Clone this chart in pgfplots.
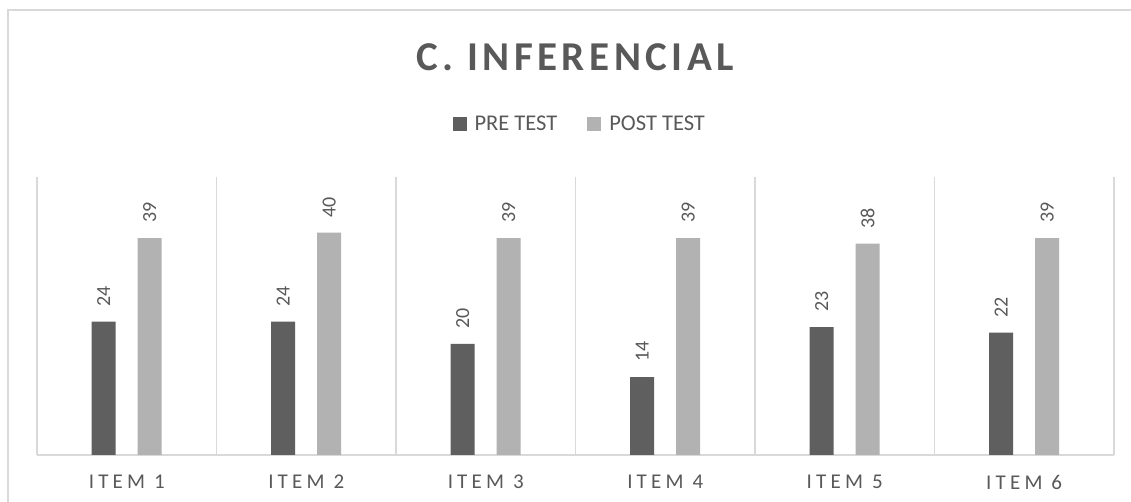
\documentclass[border=0pt]{standalone}
\usepackage{fontspec}
\setmainfont{Carlito}
\newfontfamily\spacedfont[LetterSpace=20]{Carlito}
\newfontfamily\titlefont[LetterSpace=11]{Carlito}
\usepackage{pgfplots}
\pgfplotsset{compat=1.18}
\definecolor{txt}{HTML}{595959}
\definecolor{darkbar}{HTML}{5F5F5F}
\definecolor{lightbar}{HTML}{B2B2B2}
\definecolor{gridc}{HTML}{D9D9D9}
\begin{document}
\begin{tikzpicture}
\path[use as bounding box, fill=white] (0bp,0bp) rectangle (1131bp,502bp);
\draw[gridc, line width=1.3bp] (8bp,0bp) -- (8bp,492bp) -- (1131bp,492bp);
\node[text=txt, font=\fontsize{41bp}{46bp}\selectfont\titlefont\bfseries, anchor=center] at (575bp,445bp) {C. INFERENCIAL};
\begin{axis}[
  at={(37bp,47bp)}, anchor=south west,
  scale only axis, width=1077bp, height=278bp,
  xmin=0.5, xmax=6.5, ymin=0, ymax=50,
  ybar, bar width=24bp,
  axis y line=none,
  axis x line*=bottom,
  axis line style={gridc, line width=1.2bp},
  xtick={1,2,3,4,5,6},
  xticklabels={ITEM 1,ITEM 2,ITEM 3,ITEM 4,ITEM 5,ITEM 6},
  major tick length=0pt, minor tick length=0pt,
  minor xtick={0.5,1.5,2.5,3.5,4.5,5.5,6.5},
  xminorgrids=true,
  minor grid style={gridc, line width=1.2bp},
  xticklabel style={font=\fontsize{21bp}{24bp}\selectfont\spacedfont, text=txt, inner sep=0pt, anchor=north, yshift=-20bp},
  /pgf/number format/assume math mode=true,
  nodes near coords,
  every node near coord/.append style={font=\fontsize{20bp}{24bp}\selectfont, text=txt, rotate=90, anchor=west, inner sep=0pt, inner xsep=15bp},
  legend style={at={(0.504,1.19)}, anchor=center, draw=none, fill=none, legend columns=-1,
    font=\fontsize{22.5bp}{26bp}\selectfont, text=txt,
    /tikz/every odd column/.append style={column sep=6bp},
    /tikz/every even column/.append style={column sep=28bp}},
  legend image code/.code={\fill[#1, draw=none] (0bp,-7bp) rectangle (14bp,7bp);},
  clip=false,
]
\addplot[fill=darkbar, draw=none, bar shift=-23bp] coordinates {(1,24) (2,24) (3,20) (4,14) (5,23) (6,22)};
\addplot[fill=lightbar, draw=none, bar shift=23bp] coordinates {(1,39) (2,40) (3,39) (4,39) (5,38) (6,39)};
\legend{PRE TEST, POST TEST}
\end{axis}
\end{tikzpicture}
\end{document}
